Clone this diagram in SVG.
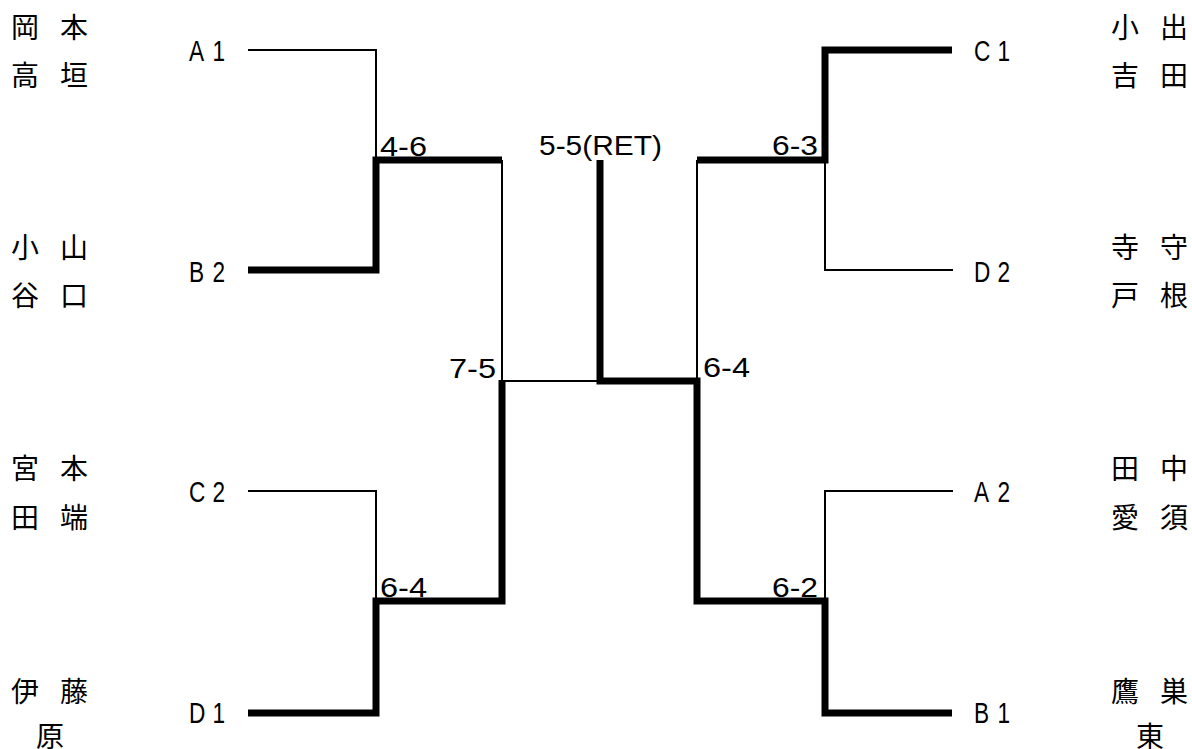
<svg xmlns="http://www.w3.org/2000/svg" width="1192" height="749" viewBox="0 0 1192 749">
<style>
.name{font-family:"Noto Sans CJK JP","Noto Sans CJK SC",sans-serif;font-size:28px;fill:#000}
.seed{font-family:"Liberation Sans",Arial,sans-serif;font-size:29px;fill:#000}
.score{font-family:"Liberation Sans",Arial,sans-serif;font-size:28px;fill:#000}
.thin{fill:none;stroke:#000;stroke-width:2;stroke-linejoin:miter;stroke-linecap:butt}
.thick{fill:none;stroke:#000;stroke-width:7;stroke-linejoin:miter;stroke-linecap:butt}
</style>
<rect width="1192" height="749" fill="#fff"/>
<g id="connectors">
<polyline class="thin" points="248,50 376,50 376,160"/>
<polyline class="thick" points="248,270 376,270 376,160 502,160"/>
<polyline class="thin" points="502,160 502,381 600,381"/>
<polyline class="thin" points="248,491 376,491 376,601"/>
<polyline class="thick" points="248,713 376,713 376,601 502,601 502,380"/>
<polyline class="thick" points="600,160 600,381 697,381 697,601 825,601 825,713 952,713"/>
<polyline class="thin" points="697,381 697,160"/>
<polyline class="thick" points="697,160 825,160 825,50 952,50"/>
<polyline class="thin" points="825,160 825,270 953,270"/>
<polyline class="thin" points="825,601 825,491 953,491"/>
</g>
<g id="scores">
<text class="score" x="380" y="156" textLength="47" lengthAdjust="spacingAndGlyphs">4-6</text>
<text class="score" x="380" y="597" textLength="47" lengthAdjust="spacingAndGlyphs">6-4</text>
<text class="score" x="449" y="378" textLength="47" lengthAdjust="spacingAndGlyphs">7-5</text>
<text class="score" x="539" y="155" textLength="123" lengthAdjust="spacingAndGlyphs">5-5(RET)</text>
<text class="score" x="703" y="377" textLength="47" lengthAdjust="spacingAndGlyphs">6-4</text>
<text class="score" x="772" y="155" textLength="46" lengthAdjust="spacingAndGlyphs">6-3</text>
<text class="score" x="772" y="597" textLength="46" lengthAdjust="spacingAndGlyphs">6-2</text>
</g>
<g id="entry-A1">
<text class="seed" transform="translate(189,61) scale(0.78,1)" x="0 30" y="0">A1</text>
<text class="name" x="11 60" y="38">岡本</text>
<text class="name" x="11 60" y="86">高垣</text>
</g>
<g id="entry-B2">
<text class="seed" transform="translate(189,282) scale(0.78,1)" x="0 30" y="0">B2</text>
<text class="name" x="11 60" y="258">小山</text>
<text class="name" x="11 60" y="306">谷口</text>
</g>
<g id="entry-C2">
<text class="seed" transform="translate(189,502) scale(0.78,1)" x="0 30" y="0">C2</text>
<text class="name" x="11 60" y="479">宮本</text>
<text class="name" x="11 60" y="528">田端</text>
</g>
<g id="entry-D1">
<text class="seed" transform="translate(189,723) scale(0.78,1)" x="0 30" y="0">D1</text>
<text class="name" x="11 60" y="702">伊藤</text>
<text class="name" x="36" y="747">原</text>
</g>
<g id="entry-C1">
<text class="seed" transform="translate(974,61) scale(0.78,1)" x="0 30" y="0">C1</text>
<text class="name" x="1111 1160" y="38">小出</text>
<text class="name" x="1111 1160" y="86">吉田</text>
</g>
<g id="entry-D2">
<text class="seed" transform="translate(974,282) scale(0.78,1)" x="0 30" y="0">D2</text>
<text class="name" x="1111 1160" y="258">寺守</text>
<text class="name" x="1111 1160" y="306">戸根</text>
</g>
<g id="entry-A2">
<text class="seed" transform="translate(974,502) scale(0.78,1)" x="0 30" y="0">A2</text>
<text class="name" x="1111 1160" y="479">田中</text>
<text class="name" x="1111 1160" y="528">愛須</text>
</g>
<g id="entry-B1">
<text class="seed" transform="translate(974,723) scale(0.78,1)" x="0 30" y="0">B1</text>
<text class="name" x="1111 1160" y="702">鷹巣</text>
<text class="name" x="1136" y="747">東</text>
</g>
</svg>
